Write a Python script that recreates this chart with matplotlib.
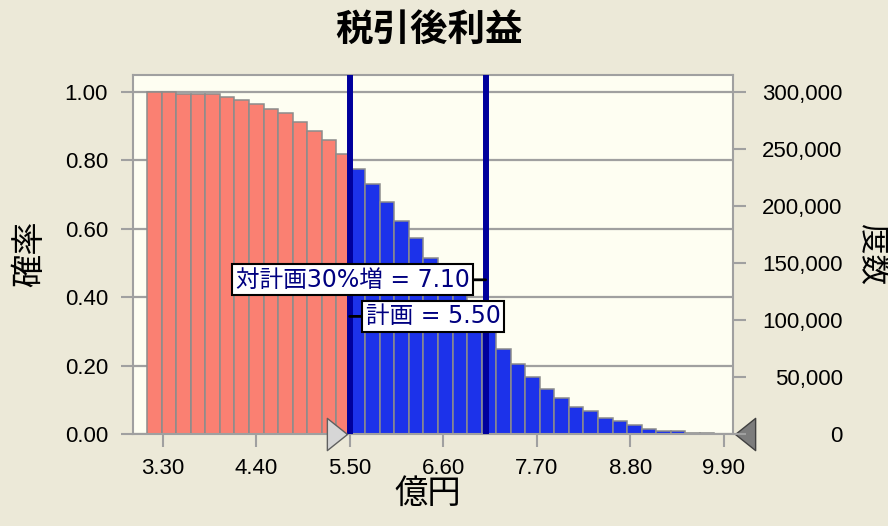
import matplotlib.pyplot as plt
import numpy as np
from matplotlib.path import Path

plt.rcParams['font.family'] = ['Liberation Sans', 'Noto Sans CJK JP']

# reverse cumulative probability per bin
bin_start = 3.12
bin_width = 0.171
probs = [1.000, 1.000, 0.995, 0.995, 0.995, 0.985, 0.977, 0.965, 0.951, 0.939,
         0.912, 0.887, 0.860, 0.819,
         0.775, 0.731, 0.678, 0.624, 0.573, 0.514, 0.460, 0.410, 0.355, 0.300,
         0.248, 0.205, 0.166, 0.132, 0.106, 0.078, 0.068, 0.047, 0.037, 0.027,
         0.015, 0.010, 0.010, 0.003, 0.003]

plan_value = 5.50
target_value = 7.10
plan_label = '計画 = 5.50'
target_label = '対計画30%増 = 7.10'

x_ticks = [3.30, 4.40, 5.50, 6.60, 7.70, 8.80, 9.90]
prob_ticks = [0.0, 0.2, 0.4, 0.6, 0.8, 1.0]
count_ticks = [0, 50000, 100000, 150000, 200000, 250000, 300000]
count_total = 300000

bg = '#ECE9D8'
grid_c = '#A0A0A0'

fig = plt.figure(figsize=(8.88, 5.26), dpi=100, facecolor=bg)
ax = fig.add_axes([133/888, 1-434/526, 600/888, 359/526])
ax.set_facecolor('#FEFEF2')

edges = bin_start + bin_width * np.arange(len(probs))
colors = ['#FA8072' if e + bin_width/2 < plan_value else '#1C32EA' for e in edges]
ax.bar(edges, probs, width=bin_width, align='edge', color=colors,
       edgecolor='#8C8C8C', linewidth=1.1, zorder=2)

# certainty lines
for v in [plan_value, target_value]:
    ax.axvline(v, color='#00009C', lw=4.3, zorder=3)

ax.set_xlim(2.953, 10.009)
ax.set_ylim(0, 1.05)
ax.set_xticks(x_ticks)
ax.set_xticklabels(['%.2f' % t for t in x_ticks])
ax.set_yticks(prob_ticks)
ax.set_yticklabels(['%.2f' % t for t in prob_ticks])
ax.yaxis.grid(True, color=grid_c, lw=1.6)
ax.set_axisbelow(True)
ax.tick_params(axis='both', length=9, width=1.5, color=grid_c, labelsize=16, pad=8)
ax.tick_params(axis='y', pad=9)
for s in ax.spines.values():
    s.set_color(grid_c)
    s.set_linewidth(1.5)

ax2 = ax.twinx()
ax2.set_ylim(0, 1.05 * count_total)
ax2.set_yticks(count_ticks)
ax2.set_yticklabels(['{:,}'.format(c) for c in count_ticks])
ax2.tick_params(axis='y', length=9, width=1.5, color=grid_c, labelsize=16, pad=70)
for lab in ax2.get_yticklabels():
    lab.set_horizontalalignment('right')
for s in ax2.spines.values():
    s.set_visible(False)

# grabber triangles on the x axis
tri_right = Path([(0, 0), (-1.25, -1), (-1.25, 1), (0, 0)])
tri_left = Path([(0, 0), (1.25, -1), (1.25, 1), (0, 0)])
ax.plot([plan_value - 0.03], [0], marker=tri_right, ms=29, mfc='#D6D6D6',
        mec='#606060', mew=1, clip_on=False, zorder=5)
ax.plot([1.003], [0], marker=tri_left, ms=29, mfc='#7C7C7C', mec='#404040',
        mew=1, clip_on=False, zorder=5, transform=ax.get_yaxis_transform())

lab_font = ['DejaVu Sans', 'Noto Sans CJK JP']
box = dict(boxstyle='square,pad=0.15', fc='white', ec='black', lw=1.5)
arrow = dict(arrowstyle='-', color='black', lw=2, shrinkA=0, shrinkB=0)
ax.annotate(target_label, xy=(target_value, 0.451), xytext=(-16, 0),
            textcoords='offset pixels', ha='right', va='center', color='#000080',
            fontsize=17, family=lab_font, bbox=box, arrowprops=arrow, zorder=6)
ax.annotate(plan_label, xy=(plan_value, 0.344), xytext=(16, 0),
            textcoords='offset pixels', ha='left', va='center', color='#000080',
            fontsize=17, family=lab_font, bbox=box, arrowprops=arrow, zorder=6)

fig.text(429/888, 1-29/526, '税引後利益', fontsize=27, fontweight='bold',
         family='Noto Sans CJK JP', ha='center', va='center')
fig.text(30/888, 1-254/526, '確率', rotation=90, fontsize=24, ha='center', va='center')
fig.text(428/888, 1-494/526, '億円', fontsize=24, ha='center', va='center')
fig.text(872/888, 1-255/526, '度数', rotation=270, fontsize=22, ha='center', va='center')

fig.savefig('out.png', dpi=100, facecolor=bg)
